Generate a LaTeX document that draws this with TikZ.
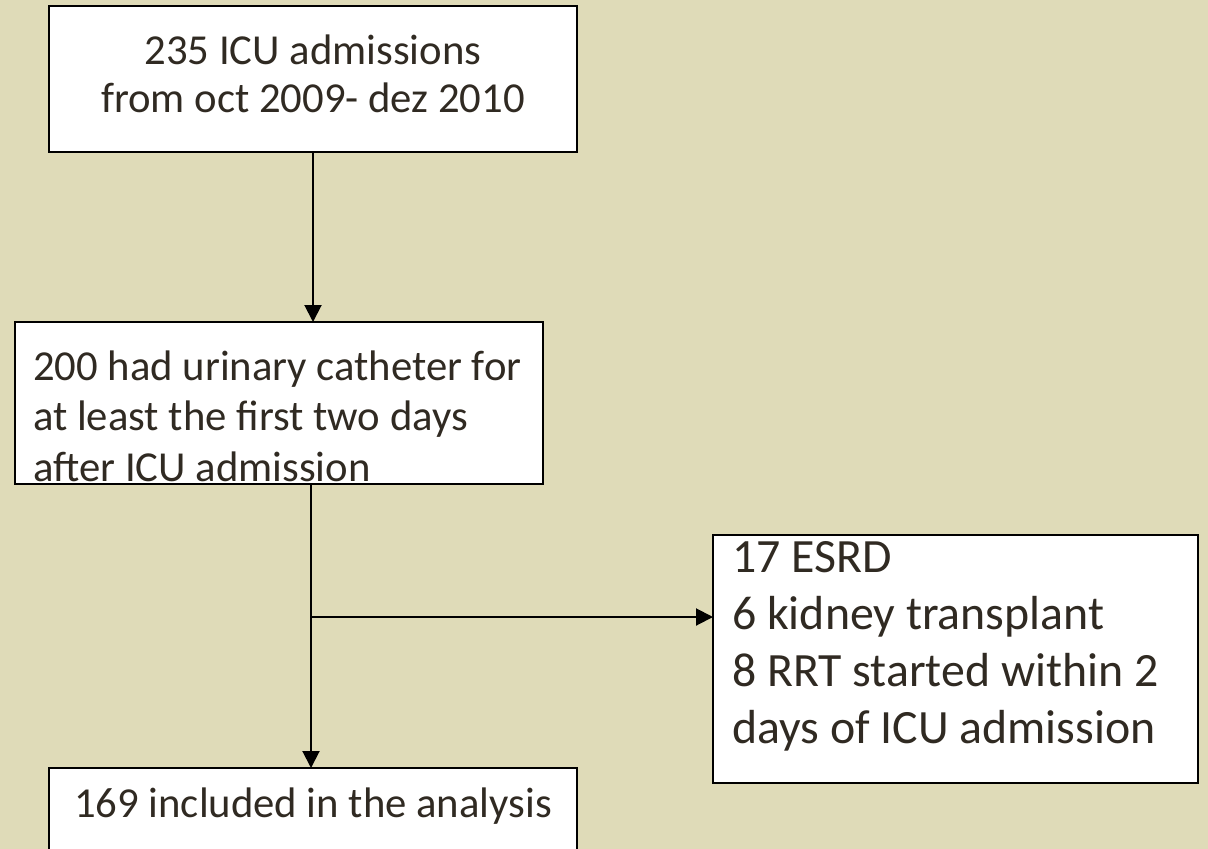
\documentclass[tikz,border=0pt]{standalone}
\usepackage{fontspec}
\setmainfont{Carlito}
\usetikzlibrary{arrows.meta}
\definecolor{bg}{RGB}{223,219,184}
\definecolor{txt}{RGB}{48,42,34}
\tikzset{
  box/.style={draw=black, fill=white, line width=2pt, inner sep=0pt, outer sep=0pt},
  txtA/.style={inner sep=0pt, text=txt, font=\fontsize{42.7}{50.5}\selectfont},
  txtB/.style={inner sep=0pt, text=txt, font=\fontsize{47.8}{57}\selectfont},
  arr/.style={line width=2pt, -{Triangle[length=17pt,width=17pt]}},
  ln/.style={line width=2pt}
}
\begin{document}
\begin{tikzpicture}[x=1pt,y=-1pt]
\fill[bg] (0,0) rectangle (1208,849);
\useasboundingbox (0,0) rectangle (1208,849);
\clip (0,0) rectangle (1208,849);
% boxes
\node[box, minimum width=528pt, minimum height=146pt] (b1) at (313,79) {};
\node[box, minimum width=528pt, minimum height=162pt] (b2) at (279,403) {};
\node[box, minimum width=485pt, minimum height=248pt] (b3) at (955.5,659) {};
\node[box, minimum width=528pt, minimum height=130pt] (b4) at (313,833) {};
% texts
\node[txtA, anchor=base] (t1a) at (313,64) {235 ICU admissions};
\node[txtA, anchor=base] (t1b) at (313,112) {from oct 2009- dez 2010};
\node[txtA, anchor=base west] (t2a) at (33,380) {200 had urinary catheter for};
\node[txtA, anchor=base west] (t2b) at (33,430.5) {at least the first two days};
\node[txtA, anchor=base west] (t2c) at (33,481) {after ICU admission};
\node[txtB, anchor=base west] (t3a) at (732,572) {17 ESRD};
\node[txtB, anchor=base west] (t3b) at (732,629) {6 kidney transplant};
\node[txtB, anchor=base west] (t3c) at (732,686) {8 RRT started within 2};
\node[txtB, anchor=base west] (t3d) at (732,743.5) {days of ICU admission};
\node[txtA, anchor=base] (t4a) at (313,817) {169 included in the analysis};
% connectors
\draw[arr] (b1.south) -- (b1.south |- b2.north);
\coordinate (top2) at (311,484);
\coordinate (j) at (311,617);
\draw[arr] (top2) -- (top2 |- b4.north);
\draw[arr] (j) -- (j -| b3.west);
\end{tikzpicture}
\end{document}
